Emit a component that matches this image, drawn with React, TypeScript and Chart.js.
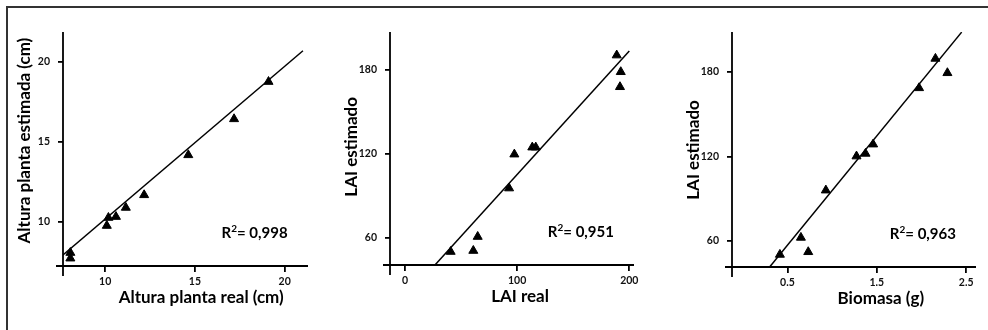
import React, { useEffect, useRef } from "react";
import { Chart, registerables } from "chart.js";

Chart.register(...registerables);

// ---------- Panel 1: plant height ----------
const heightReal = [8.06, 8.06, 10.09, 10.18, 10.6, 11.15, 12.17, 14.63, 17.18, 19.1];
const heightEst = [8.06, 7.71, 9.75, 10.25, 10.31, 10.88, 11.67, 14.17, 16.42, 18.75];
const heightFitX = [7.65, 21.02];
const heightFitY = [7.92, 20.69];
const heightXTicks = [10, 15, 20];
const heightYTicks = [10, 15, 20];
const heightXTickLabels = ["10", "15", "20"];
const heightYTickLabels = ["10", "15", "20"];

// ---------- Panel 2: LAI ----------
const laiReal = [40.7, 60.9, 64.8, 92.8, 97.5, 113.5, 116.6, 188.8, 192.4, 191.7];
const laiEst = [50.0, 50.7, 60.7, 95.3, 119.5, 124.5, 124.5, 190.2, 178.3, 167.6];
const laiFitX = [26.7, 200];
const laiFitY = [40.5, 193.3];
const laiXTicks = [0, 100, 200];
const laiYTicks = [60, 120, 180];
const laiXTickLabels = ["0", "100", "200"];
const laiYTickLabels = ["60", "120", "180"];

// ---------- Panel 3: biomass ----------
const biomass = [0.416, 0.651, 0.733, 0.93, 1.273, 1.374, 1.459, 1.973, 2.156, 2.29];
const biomassLaiEst = [50.3, 62.4, 52.2, 96.0, 120.2, 122.1, 128.7, 168.7, 189.6, 179.4];
const biomassFitX = [0.301, 2.45];
const biomassFitY = [41.5, 208.4];
const biomassXTicks = [0.5, 1.5, 2.5];
const biomassYTicks = [60, 120, 180];
const biomassXTickLabels = ["0.5", "1.5", "2.5"];
const biomassYTickLabels = ["60", "120", "180"];

const FONT = "Lato";

type PanelCfg = {
  left: number;
  width: number;
  xs: number[];
  ys: number[];
  fitX: number[];
  fitY: number[];
  xMin: number;
  xMax: number;
  yMin: number;
  yMax: number;
  xTicks: number[];
  yTicks: number[];
  xTickLabels: string[];
  yTickLabels: string[];
  yAxisWidth: number;
  xAxisHeight: number;
  padRight: number;
  padTop: number;
  xTitle: string;
  yTitle: string;
  xTitleFrac: number;
  yTitleFrac: number;
  r2: string;
};

const panels: PanelCfg[] = [
  {
    left: 0, width: 330,
    xs: heightReal, ys: heightEst, fitX: heightFitX, fitY: heightFitY,
    xMin: 7.65, xMax: 21.3, yMin: 7.23, yMax: 21.86,
    xTicks: heightXTicks, yTicks: heightYTicks,
    xTickLabels: heightXTickLabels, yTickLabels: heightYTickLabels,
    yAxisWidth: 63, xAxisHeight: 64, padRight: 22, padTop: 32,
    xTitle: "Altura planta real (cm)", yTitle: "Altura planta estimada (cm)",
    xTitleFrac: 0.564, yTitleFrac: 0.464, r2: "0,998",
  },
  {
    left: 330, width: 330,
    xs: laiReal, ys: laiEst, fitX: laiFitX, fitY: laiFitY,
    xMin: -13.4, xMax: 204.2, yMin: 40.5, yMax: 206.8,
    xTicks: laiXTicks, yTicks: laiYTicks,
    xTickLabels: laiXTickLabels, yTickLabels: laiYTickLabels,
    yAxisWidth: 60, xAxisHeight: 65, padRight: 26, padTop: 32,
    xTitle: "LAI real", yTitle: "LAI estimado",
    xTitleFrac: 0.533, yTitleFrac: 0.493, r2: "0,951",
  },
  {
    left: 660, width: 328,
    xs: biomass, ys: biomassLaiEst, fitX: biomassFitX, fitY: biomassFitY,
    xMin: -0.12, xMax: 2.61, yMin: 41.5, yMax: 208.5,
    xTicks: biomassXTicks, yTicks: biomassYTicks,
    xTickLabels: biomassXTickLabels, yTickLabels: biomassYTickLabels,
    yAxisWidth: 72, xAxisHeight: 63, padRight: 12, padTop: 32,
    xTitle: "Biomasa (g)", yTitle: "LAI estimado",
    xTitleFrac: 0.61, yTitleFrac: 0.502, r2: "0,963",
  },
];

const decorPlugin = {
  id: "decor",
  afterDraw(chart: any, _args: any, opts: any) {
    const { ctx, chartArea: a } = chart;
    ctx.save();
    // axis lines (crossing style)
    ctx.strokeStyle = "#000";
    ctx.lineWidth = 1.8;
    ctx.beginPath();
    ctx.moveTo(a.left, a.top);
    ctx.lineTo(a.left, a.bottom + 10);
    ctx.moveTo(a.left - 7, a.bottom);
    ctx.lineTo(a.right, a.bottom);
    ctx.stroke();

    // axis titles
    ctx.fillStyle = "#000";
    ctx.font = `bold 17px ${FONT}`;
    ctx.textAlign = "center";
    ctx.textBaseline = "alphabetic";
    ctx.fillText(opts.xTitle, a.left + opts.xTitleFrac * a.width, a.bottom + 37);

    ctx.save();
    ctx.translate(a.left - 38, a.top + opts.yTitleFrac * a.height);
    ctx.rotate(-Math.PI / 2);
    ctx.textBaseline = "middle";
    ctx.fillText(opts.yTitle, 0, 0);
    ctx.restore();

    // R² annotation
    const x0 = a.left + 0.647 * a.width;
    const y0 = a.top + 0.88 * a.height;
    ctx.textAlign = "left";
    ctx.textBaseline = "alphabetic";
    ctx.font = `bold 15px ${FONT}`;
    ctx.fillText("R", x0, y0);
    let x = x0 + ctx.measureText("R").width;
    ctx.font = `bold 10px ${FONT}`;
    ctx.fillText("2", x, y0 - 6);
    x += ctx.measureText("2").width;
    ctx.font = `bold 15px ${FONT}`;
    ctx.fillText("= " + opts.r2, x, y0);
    ctx.restore();
  },
};

function Panel({ cfg }: { cfg: PanelCfg }) {
  const ref = useRef<HTMLCanvasElement | null>(null);
  useEffect(() => {
    if (!ref.current) return;
    const tickFont = { family: FONT, weight: "bold" as const, size: 10.5 };
    const chart = new Chart(ref.current, {
      type: "scatter",
      data: {
        datasets: [
          {
            type: "scatter",
            data: cfg.xs.map((x, i) => ({ x, y: cfg.ys[i] })),
            pointStyle: "triangle",
            pointRadius: 5.2,
            pointBackgroundColor: "#000",
            pointBorderColor: "#000",
            pointBorderWidth: 1,
            order: 1,
          },
          {
            type: "line",
            data: cfg.fitX.map((x, i) => ({ x, y: cfg.fitY[i] })),
            borderColor: "#000",
            borderWidth: 1.5,
            pointRadius: 0,
            fill: false,
            order: 2,
          } as any,
        ],
      },
      options: {
        animation: false,
        responsive: false,
        devicePixelRatio: 1,
        layout: { padding: { left: 0, top: cfg.padTop, right: cfg.padRight, bottom: 0 } },
        plugins: {
          legend: { display: false },
          tooltip: { enabled: false },
          decor: {
            xTitle: cfg.xTitle,
            yTitle: cfg.yTitle,
            xTitleFrac: cfg.xTitleFrac,
            yTitleFrac: cfg.yTitleFrac,
            r2: cfg.r2,
          },
        } as any,
        scales: {
          x: {
            type: "linear",
            min: cfg.xMin,
            max: cfg.xMax,
            afterBuildTicks: (s: any) => {
              s.ticks = cfg.xTicks.map((v) => ({ value: v }));
            },
            afterFit: (s: any) => {
              s.height = cfg.xAxisHeight;
            },
            ticks: {
              font: tickFont,
              color: "#111",
              padding: 3,
              maxRotation: 0,
              autoSkip: false,
              callback: (_v: any, i: number) => cfg.xTickLabels[i],
            },
            grid: {
              display: true,
              drawOnChartArea: false,
              drawTicks: true,
              tickLength: 6,
              color: "#000",
              lineWidth: 1.8,
            },
            border: { display: false },
          },
          y: {
            type: "linear",
            min: cfg.yMin,
            max: cfg.yMax,
            afterBuildTicks: (s: any) => {
              s.ticks = cfg.yTicks.map((v) => ({ value: v }));
            },
            afterFit: (s: any) => {
              s.width = cfg.yAxisWidth;
            },
            ticks: {
              font: tickFont,
              color: "#111",
              padding: 8,
              autoSkip: false,
              callback: (_v: any, i: number) => cfg.yTickLabels[i],
            },
            grid: {
              display: true,
              drawOnChartArea: false,
              drawTicks: true,
              tickLength: 5,
              color: "#000",
              lineWidth: 1.8,
            },
            border: { display: false },
          },
        },
      } as any,
      plugins: [decorPlugin as any],
    });
    return () => chart.destroy();
  }, [cfg]);
  return (
    <canvas
      ref={ref}
      width={cfg.width}
      height={330}
      style={{ position: "absolute", left: cfg.left, top: 0, width: cfg.width, height: 330 }}
    />
  );
}

export default function App() {
  return (
    <div
      style={{
        position: "fixed",
        left: 0,
        top: 0,
        width: 988,
        height: 330,
        overflow: "hidden",
        background: "#fff",
      }}
    >
      <div
        style={{
          position: "absolute",
          left: 6,
          top: 6,
          width: 1000,
          height: 400,
          borderLeft: "2px solid #333",
          borderTop: "2px solid #333",
        }}
      />
      {panels.map((p, i) => (
        <Panel key={i} cfg={p} />
      ))}
    </div>
  );
}
